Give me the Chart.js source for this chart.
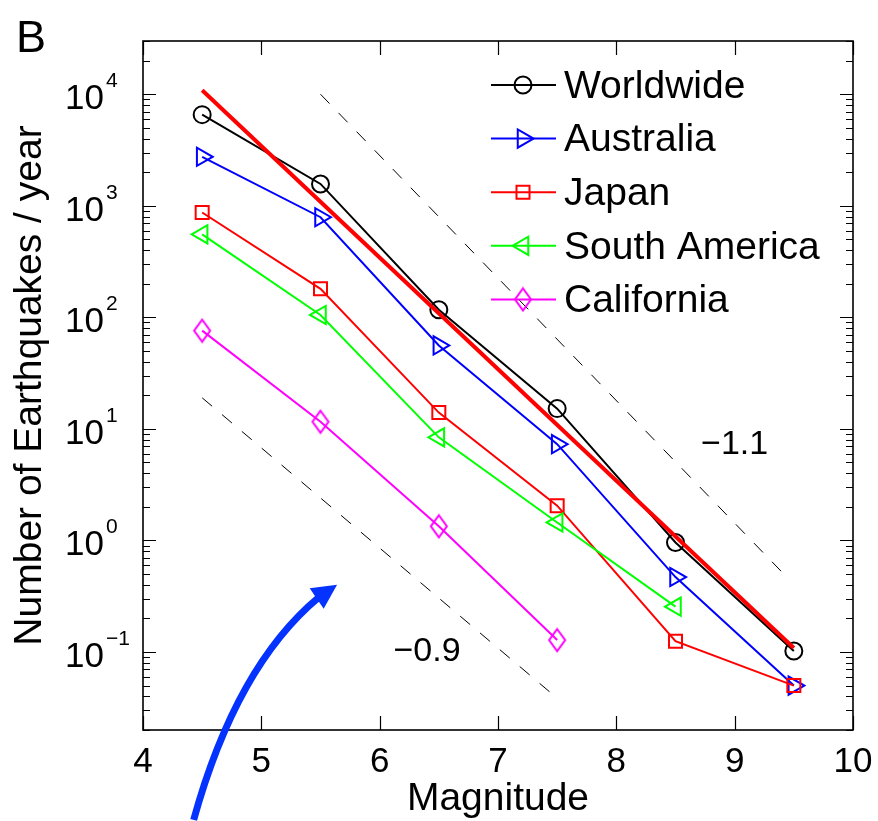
<!DOCTYPE html>
<html><head><meta charset="utf-8">
<style>html,body{margin:0;padding:0;background:#fff;}</style>
<script src="https://cdn.jsdelivr.net/npm/chart.js@4.4.0/dist/chart.umd.min.js"></script>
</head><body>
<canvas id="c" width="878" height="821"></canvas>
<script>
// ---------- data ----------
const magnitudes = [4.5, 5.5, 6.5, 7.5, 8.5, 9.5];
const worldwide = [6560, 1570, 117, 15.2, 0.96, 0.102];
const australia = [2750, 790, 56, 7.3, 0.47, 0.05];
const japan = [870, 180, 14, 2.05, 0.125, 0.05];
const southAmerica = [555, 105, 8.4, 1.45, 0.255];
const california = [76, 11.6, 1.34, 0.128];
const seriesNames = ['Worldwide', 'Australia', 'Japan', 'South America', 'California'];
const fitX = [4.5, 9.5];
const fitY = [10860, 0.1086];
const slopeUpperX = [5.5, 9.44];
const slopeUpperY = [10000, 0.47];
const slopeLowerX = [4.5, 7.47];
const slopeLowerY = [19, 0.041];
const slopeLabels = ['\u22121.1', '\u22120.9'];
const slopeLabelX = [9.0, 6.4];
const slopeLabelY = [7.2, 0.1];
const xTicks = [4, 5, 6, 7, 8, 9, 10];
const yDecades = [-1, 0, 1, 2, 3, 4];
const arrowTip = {x: 5.64, y: 0.40};

// ---------- styles ----------
const FONT = '"Liberation Sans", Arial, Helvetica, sans-serif';
const seriesValues = [worldwide, australia, japan, southAmerica, california];
const seriesColors = ['#000000', '#0000ff', '#ff0000', '#00ff00', '#ff00ff'];

function makeDiamond(color) {
  const c = document.createElement('canvas');
  c.width = 20; c.height = 26;
  const g = c.getContext('2d');
  g.strokeStyle = color; g.lineWidth = 2;
  g.beginPath(); g.moveTo(10, 2); g.lineTo(18, 13); g.lineTo(10, 24); g.lineTo(2, 13); g.closePath();
  g.stroke();
  return c;
}
const seriesMarkers = [
  {pointStyle: 'circle', rotation: 0, radius: 8.5},
  {pointStyle: 'triangle', rotation: 90, radius: 10.5},
  {pointStyle: 'rect', rotation: 0, radius: 9.2},
  {pointStyle: 'triangle', rotation: 270, radius: 10.5},
  {pointStyle: makeDiamond('#ff00ff'), rotation: 0, radius: 10}
];

function pts(xs, ys) { return ys.map((v, i) => ({x: xs[i], y: v})); }

const datasets = [
  {label: 'slope \u22121.1', data: pts(slopeUpperX, slopeUpperY), borderColor: '#000', borderWidth: 1,
   borderDash: [13, 13], pointRadius: 0, order: 100},
  {label: 'slope \u22120.9', data: pts(slopeLowerX, slopeLowerY), borderColor: '#000', borderWidth: 1,
   borderDash: [13, 13], pointRadius: 0, order: 100}
];
seriesNames.forEach((name, i) => {
  const m = seriesMarkers[i];
  datasets.push({
    label: name, data: pts(magnitudes, seriesValues[i]), borderColor: seriesColors[i], borderWidth: 2,
    pointStyle: m.pointStyle, pointRotation: m.rotation, pointRadius: m.radius,
    pointBorderColor: seriesColors[i], pointBorderWidth: 2, pointBackgroundColor: 'rgba(0,0,0,0)',
    order: 60 - 10 * i, seriesIndex: i
  });
});
datasets.push({label: 'fit', data: pts(fitX, fitY), borderColor: '#ff0000', borderWidth: 4, pointRadius: 0, order: 5});

function drawMarker(ctx, i, x, y) {
  const m = seriesMarkers[i];
  ctx.save();
  ctx.strokeStyle = seriesColors[i]; ctx.fillStyle = 'rgba(0,0,0,0)'; ctx.lineWidth = 2;
  if (typeof m.pointStyle === 'object') {
    ctx.drawImage(m.pointStyle, x - m.pointStyle.width / 2, y - m.pointStyle.height / 2);
  } else {
    const r = m.radius;
    ctx.beginPath();
    if (m.pointStyle === 'circle') ctx.arc(x, y, r, 0, Math.PI * 2);
    else if (m.pointStyle === 'rect') { const s = r * Math.SQRT1_2; ctx.rect(x - s, y - s, 2 * s, 2 * s); }
    else if (m.pointStyle === 'triangle') {
      let a = m.rotation * Math.PI / 180;
      ctx.moveTo(x + Math.sin(a) * r, y - Math.cos(a) * r);
      a += 2 * Math.PI / 3; ctx.lineTo(x + Math.sin(a) * r, y - Math.cos(a) * r);
      a += 2 * Math.PI / 3; ctx.lineTo(x + Math.sin(a) * r, y - Math.cos(a) * r);
      ctx.closePath();
    }
    ctx.stroke();
  }
  ctx.restore();
}

const decor = {
  id: 'decor',
  afterDraw(chart) {
    const {ctx, chartArea: a, scales: {x, y}} = chart;
    ctx.save();
    // frame
    ctx.strokeStyle = '#000'; ctx.lineWidth = 1.6;
    ctx.strokeRect(a.left, a.top, a.right - a.left, a.bottom - a.top);
    // inward ticks
    ctx.lineWidth = 1.2;
    ctx.beginPath();
    xTicks.forEach(v => {
      const px = Math.round(x.getPixelForValue(v)) + 0.5;
      ctx.moveTo(px, a.bottom); ctx.lineTo(px, a.bottom - 14);
      ctx.moveTo(px, a.top); ctx.lineTo(px, a.top + 14);
    });
    for (let d = -2; d <= 4; d++) {
      for (let m = 1; m <= 9; m++) {
        const v = m * Math.pow(10, d);
        if (v < y.min * 0.999 || v > y.max * 1.001) continue;
        const py = Math.round(y.getPixelForValue(v)) + 0.5;
        const L = m === 1 ? 13 : 7;
        ctx.moveTo(a.left, py); ctx.lineTo(a.left + L, py);
        ctx.moveTo(a.right, py); ctx.lineTo(a.right - L, py);
      }
    }
    ctx.stroke();
    // y tick labels: 10^k
    ctx.fillStyle = '#000'; ctx.textAlign = 'left'; ctx.textBaseline = 'alphabetic';
    yDecades.forEach(k => {
      const py = y.getPixelForValue(Math.pow(10, k));
      const bx = a.left - 78;
      ctx.font = '35px ' + FONT;
      ctx.fillText('10', bx, py + 15);
      const w = ctx.measureText('10').width;
      ctx.font = '21px ' + FONT;
      ctx.fillText(k < 0 ? '\u2212' + (-k) : String(k), bx + w + 2, py - 7);
    });
    // slope labels
    ctx.font = '34px ' + FONT; ctx.textAlign = 'center'; ctx.textBaseline = 'middle';
    slopeLabels.forEach((t, i) => {
      ctx.fillText(t, x.getPixelForValue(slopeLabelX[i]), y.getPixelForValue(slopeLabelY[i]));
    });
    // panel letter
    ctx.font = '45px ' + FONT; ctx.textAlign = 'left'; ctx.textBaseline = 'alphabetic';
    ctx.fillText('B', 16, 52);
    // legend
    const lx0 = a.right - 362, lx1 = a.right - 297, lmx = a.right - 330, ltx = a.right - 289;
    chart.data.datasets.filter(ds => ds.seriesIndex !== undefined).forEach(ds => {
      const i = ds.seriesIndex;
      const ry = a.top + 44 + i * 53.6;
      ctx.strokeStyle = seriesColors[i]; ctx.lineWidth = 2;
      ctx.beginPath(); ctx.moveTo(lx0, ry); ctx.lineTo(lx1, ry); ctx.stroke();
      drawMarker(ctx, i, lmx, ry);
      ctx.fillStyle = '#000'; ctx.font = '39px ' + FONT; ctx.textBaseline = 'middle';
      ctx.fillText(ds.label, ltx, ry + 2);
    });
    // blue arrow
    const tx = x.getPixelForValue(arrowTip.x), ty = y.getPixelForValue(arrowTip.y);
    ctx.strokeStyle = '#0433ff'; ctx.fillStyle = '#0433ff'; ctx.lineWidth = 7;
    ctx.beginPath();
    ctx.moveTo(tx - 143.4, ty + 235);
    ctx.quadraticCurveTo(tx - 100.7, ty + 81, tx - 18, ty + 12.3);
    ctx.stroke();
    ctx.beginPath();
    ctx.moveTo(tx, ty); ctx.lineTo(tx - 27.4, ty + 3.3); ctx.lineTo(tx - 13.4, ty + 24); ctx.closePath();
    ctx.fill();
    ctx.restore();
  }
};

new Chart(document.getElementById('c'), {
  type: 'line',
  data: {datasets},
  plugins: [decor],
  options: {
    responsive: false, animation: false,
    layout: {padding: {top: 41, right: 25, left: 0, bottom: 0}},
    plugins: {legend: {display: false}, tooltip: {enabled: false}},
    elements: {line: {tension: 0}},
    scales: {
      x: {
        type: 'linear', min: 4, max: 10,
        afterBuildTicks: s => { s.ticks = xTicks.map(v => ({value: v})); },
        grid: {display: false}, border: {display: false},
        ticks: {padding: 0, color: '#000', font: {family: FONT, size: 35, lineHeight: 1.4}, maxRotation: 0, callback: v => String(v)},
        title: {display: true, text: 'Magnitude', color: '#000', font: {family: FONT, size: 39, lineHeight: 1.1}, padding: 0},
        afterFit: s => { s.height = 91; }
      },
      y: {
        type: 'logarithmic', min: 0.02, max: 30000,
        grid: {display: false}, border: {display: false},
        ticks: {display: false},
        title: {display: true, text: 'Number of Earthquakes / year', color: '#000', font: {family: FONT, size: 39}, padding: {top: 7, bottom: 0}},
        afterFit: s => { s.width = 143; }
      }
    }
  }
});
</script>
</body></html>
